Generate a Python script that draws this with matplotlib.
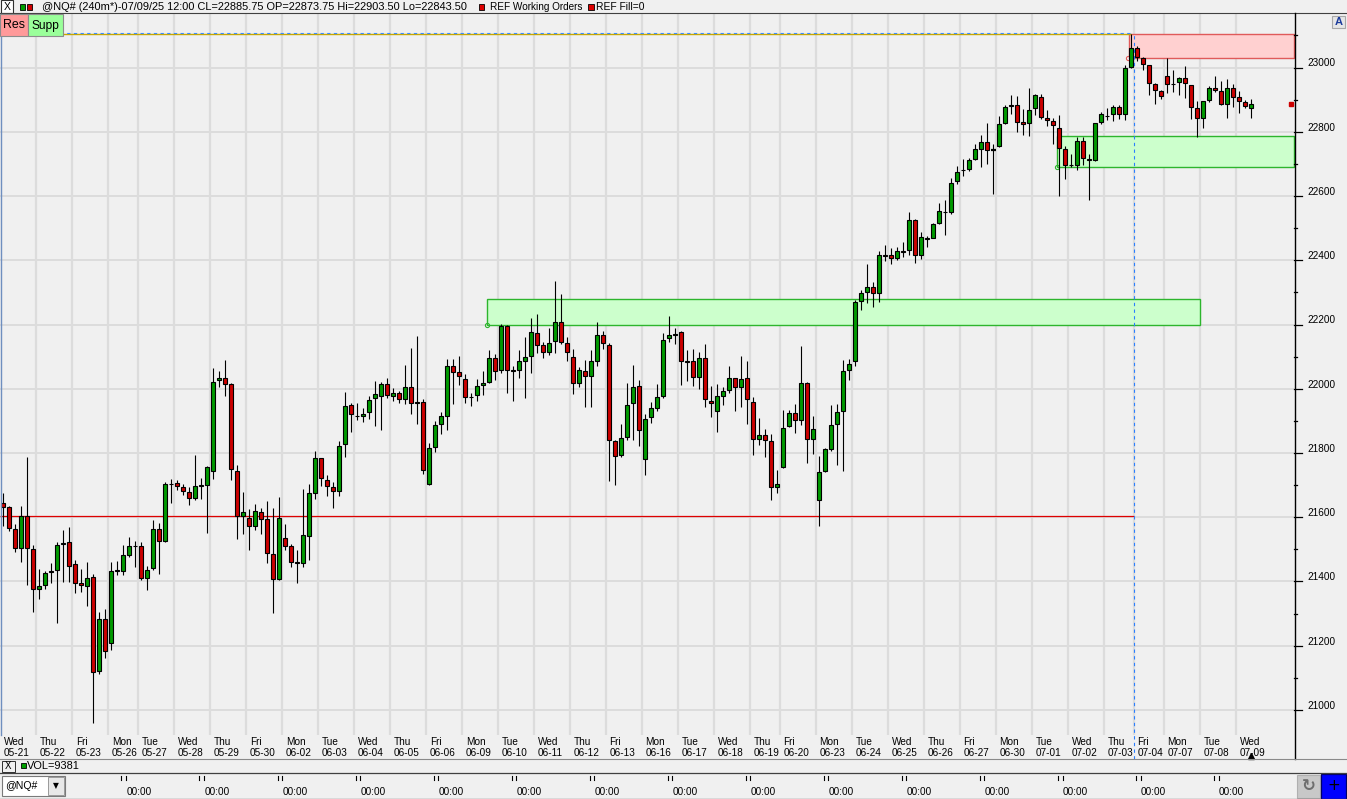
import numpy as np
import matplotlib
matplotlib.use('Agg')
import matplotlib.pyplot as plt
from matplotlib.patches import Rectangle
from matplotlib.lines import Line2D

plt.rcParams['font.family'] = ['Liberation Sans', 'DejaVu Sans']

W, H = 1347, 799

# 240 minute bars of @NQ#, 05-21 .. 07-09
opens = [21643, 21631, 21562, 21503, 21603, 21500, 21378, 21388, 21434, 21437,
         21518, 21522, 21453, 21394, 21385, 21413, 21120, 21282, 21210, 21434,
         21434, 21484, 21510, 21509, 21410, 21441, 21562, 21525, 21705, 21708,
         21693, 21680, 21661, 21697, 21701, 21745, 22026, 22032, 22014, 21745,
         21605, 21599, 21574, 21615, 21593, 21487, 21408, 21534, 21509, 21461,
         21459, 21543, 21677, 21783, 21717, 21693, 21683, 21827, 21948, 21916,
         21914, 21927, 21970, 21979, 22014, 21977, 21986, 21967, 22005, 21957,
         21958, 21702, 21818, 21889, 21916, 22070, 22051, 22029, 21974, 21980,
         22011, 22020, 22095, 22057, 22194, 22058, 22060, 22088, 22103, 22175,
         22137, 22113, 22150, 22209, 22144, 22100, 22019, 22054, 22040, 22088,
         22166, 22135, 21836, 21795, 21851, 21957, 22010, 21780, 21911, 21939,
         21976, 22157, 22168, 22178, 22085, 22085, 22038, 22097, 21963, 21932,
         21979, 21995, 22032, 22007, 22032, 21960, 21845, 21855, 21836, 21693,
         21755, 21883, 21926, 21904, 22019, 21845, 21655, 21745, 21814, 21889,
         21932, 22057, 22085, 22272, 22300, 22316, 22297, 22418, 22415, 22406,
         22428, 22431, 22524, 22418, 22465, 22471, 22515, 22551, 22549, 22646,
         22681, 22683, 22714, 22748, 22767, 22742, 22755, 22826, 22880, 22882,
         22830, 22826, 22873, 22910, 22842, 22833, 22811, 22746, 22697, 22696,
         22770, 22715, 22711, 22830, 22850, 22855, 22876, 22855, 23001, 23060,
         23029, 23007, 22948, 22926, 22973, 22949, 22954, 22967, 22945, 22873,
         22842, 22898, 22935, 22926, 22886, 22935, 22907, 22892, 22873.75]
highs = [21676, 21635, 21579, 21635, 21788, 21513, 21438, 21433, 21456, 21523,
         21560, 21569, 21467, 21438, 21460, 21423, 21304, 21313, 21460, 21463,
         21515, 21537, 21526, 21522, 21447, 21591, 21582, 21709, 21718, 21715,
         21705, 21695, 21795, 21722, 21759, 22064, 22055, 22089, 22018, 21762,
         21678, 21625, 21641, 21628, 21650, 21628, 21662, 21579, 21516, 21497,
         21687, 21702, 21806, 21786, 21731, 21711, 21838, 21990, 21955, 21955,
         21939, 21979, 22023, 22021, 22032, 22001, 21992, 22074, 22127, 22164,
         21969, 21830, 21899, 21927, 22092, 22092, 22102, 22045, 21986, 22029,
         22055, 22121, 22109, 22203, 22200, 22070, 22122, 22161, 22220, 22232,
         22145, 22189, 22335, 22294, 22160, 22123, 22069, 22091, 22122, 22207,
         22181, 22141, 21839, 21889, 22019, 22075, 22026, 21920, 21960, 22016,
         22175, 22226, 22188, 22180, 22120, 22125, 22114, 22139, 22008, 22014,
         22006, 22070, 22035, 22102, 22086, 21973, 21910, 21876, 21858, 21746,
         21933, 21933, 21952, 22133, 22022, 21915, 21791, 21817, 21948, 21954,
         22091, 22094, 22275, 22307, 22388, 22334, 22428, 22449, 22437, 22440,
         22456, 22550, 22530, 22487, 22477, 22515, 22577, 22587, 22655, 22695,
         22714, 22720, 22761, 22789, 22826, 22761, 22848, 22885, 22916, 22913,
         22870, 22935, 22917, 22917, 22867, 22842, 22851, 22755, 22730, 22783,
         22783, 22730, 22828, 22861, 22873, 22882, 22882, 23007, 23106, 23066,
         23032, 23008, 22951, 22929, 23029, 22992, 22970, 23005, 22946, 22895,
         22896, 22942, 22973, 22957, 22964, 22948, 22926, 22898, 22903.5]
lows = [21572, 21558, 21492, 21461, 21390, 21306, 21346, 21378, 21396, 21271,
        21399, 21399, 21365, 21367, 21324, 20960, 21113, 21162, 21186, 21420,
        21420, 21477, 21446, 21404, 21374, 21435, 21424, 21524, 21645, 21686,
        21668, 21639, 21654, 21657, 21551, 21719, 22006, 21978, 21717, 21533,
        21549, 21498, 21560, 21548, 21458, 21302, 21405, 21498, 21446, 21396,
        21446, 21467, 21657, 21698, 21667, 21629, 21667, 21789, 21866, 21903,
        21897, 21907, 21884, 21873, 21972, 21962, 21957, 21954, 21922, 21891,
        21735, 21700, 21804, 21860, 21873, 21954, 22013, 21957, 21947, 21963,
        21982, 22017, 22028, 22048, 21988, 21962, 22034, 21972, 22050, 22111,
        22096, 22106, 22111, 22138, 22086, 21984, 22004, 21944, 21944, 22071,
        22123, 21712, 21699, 21789, 21842, 21842, 21822, 21732, 21894, 21932,
        21970, 22147, 22140, 22012, 22025, 22009, 22000, 21944, 21913, 21866,
        21950, 21987, 21931, 21944, 21889, 21794, 21826, 21788, 21655, 21677,
        21752, 21880, 21863, 21888, 21769, 21797, 21573, 21742, 21805, 21764,
        21745, 22026, 22072, 22245, 22268, 22255, 22271, 22398, 22389, 22400,
        22411, 22418, 22392, 22405, 22442, 22471, 22512, 22480, 22545, 22639,
        22663, 22679, 22711, 22689, 22701, 22605, 22752, 22823, 22854, 22798,
        22789, 22786, 22851, 22839, 22817, 22761, 22599, 22652, 22689, 22680,
        22696, 22587, 22708, 22823, 22836, 22833, 22839, 22836, 22998, 23022,
        22991, 22914, 22886, 22901, 22920, 22923, 22914, 22904, 22839, 22785,
        22813, 22892, 22923, 22884, 22844, 22876, 22858, 22873, 22843.5]
closes = [21633, 21565, 21503, 21603, 21503, 21378, 21385, 21425, 21430, 21515,
          21521, 21447, 21394, 21388, 21410, 21117, 21282, 21185, 21434, 21436,
          21481, 21509, 21512, 21410, 21437, 21562, 21525, 21705, 21704, 21696,
          21683, 21661, 21696, 21699, 21755, 22022, 22035, 22015, 21749, 21605,
          21615, 21573, 21618, 21596, 21490, 21408, 21599, 21509, 21462, 21459,
          21546, 21674, 21783, 21721, 21696, 21683, 21823, 21945, 21920, 21915,
          21923, 21964, 21983, 22014, 21980, 21986, 21967, 22005, 21955, 21959,
          21746, 21815, 21886, 21914, 22070, 22053, 22041, 21973, 21975, 22008,
          22018, 22095, 22054, 22194, 22060, 22056, 22085, 22100, 22178, 22137,
          22113, 22144, 22209, 22147, 22116, 22019, 22057, 22040, 22085, 22166,
          22141, 21839, 21792, 21848, 21951, 22007, 21873, 21907, 21939, 21973,
          22153, 22166, 22169, 22085, 22083, 22038, 22097, 21967, 21957, 21976,
          21992, 22035, 22007, 22029, 21967, 21845, 21855, 21839, 21693, 21705,
          21879, 21926, 21904, 22019, 21845, 21876, 21742, 21811, 21886, 21929,
          22054, 22076, 22269, 22297, 22316, 22297, 22418, 22412, 22406, 22428,
          22427, 22524, 22418, 22474, 22471, 22512, 22552, 22550, 22642, 22674,
          22682, 22711, 22745, 22767, 22742, 22742, 22823, 22876, 22882, 22832,
          22825, 22867, 22914, 22845, 22836, 22820, 22749, 22696, 22696, 22770,
          22717, 22713, 22826, 22855, 22849, 22876, 22855, 22998, 23060, 23032,
          23010, 22951, 22929, 22911, 22948, 22950, 22967, 22951, 22876, 22844,
          22895, 22935, 22929, 22886, 22935, 22907, 22895, 22879, 22885.75]

day_names = ['Wed', 'Thu', 'Fri', 'Mon', 'Tue', 'Wed', 'Thu', 'Fri', 'Mon', 'Tue',
             'Wed', 'Thu', 'Fri', 'Mon', 'Tue', 'Wed', 'Thu', 'Fri', 'Mon', 'Tue',
             'Wed', 'Thu', 'Fri', 'Mon', 'Tue', 'Wed', 'Thu', 'Fri', 'Mon', 'Tue',
             'Wed', 'Thu', 'Fri', 'Mon', 'Tue', 'Wed']
day_dates = ['05-21', '05-22', '05-23', '05-26', '05-27', '05-28', '05-29', '05-30',
             '06-02', '06-03', '06-04', '06-05', '06-06', '06-09', '06-10', '06-11',
             '06-12', '06-13', '06-16', '06-17', '06-18', '06-19', '06-20', '06-23',
             '06-24', '06-25', '06-26', '06-27', '06-30', '07-01', '07-02', '07-03',
             '07-04', '07-07', '07-08', '07-09']
day_start_bar = [0, 6, 12, 18, 23, 29, 35, 41, 47, 53, 59, 65, 71, 77, 83, 89, 95, 101,
                 107, 113, 119, 125, 130, 136, 142, 148, 154, 160, 166, 172, 178, 184,
                 189, 194, 200, 206]

price_ticks = list(range(21000, 23001, 200))
ref_line = 21605
res_zone = (23030, 23106)
supp_zone_1 = (22198, 22279)
supp_zone_2 = (22690, 22786)
last_price = 22885.75
header = '@NQ# (240m*)-07/09/25 12:00 CL=22885.75 OP=22873.75 Hi=22903.50 Lo=22843.50'

BG = '#f0f0f0'
GRID = '#dcdcdc'

fig = plt.figure(figsize=(W / 100, H / 100), dpi=100)
fig.patch.set_facecolor(BG)
renderer = fig.canvas.get_renderer()


def frect(x0, y0, x1, y1, **kw):
    r = Rectangle((x0 / W, 1 - y1 / H), (x1 - x0) / W, (y1 - y0) / H,
                  transform=fig.transFigure, **kw)
    fig.add_artist(r)
    return r


def fline(xs, ys, **kw):
    fig.add_artist(Line2D([x / W for x in xs], [1 - y / H for y in ys],
                          transform=fig.transFigure, **kw))


def ftext(x, y, s, width=None, **kw):
    t = fig.text(x / W, 1 - y / H, s, **kw)
    if width:
        w = t.get_window_extent(renderer).width
        t.set_fontsize(t.get_fontsize() * width / w)
    return t


# main price panel
ax = fig.add_axes([0, 1 - 735 / H, 1294 / W, (735 - 13) / H])
ax.set_facecolor(BG)
ax.set_xlim(-0.55, 215.12)
ax.set_ylim(20922, 23170)
for s in ax.spines.values():
    s.set_visible(False)
ax.set_xticks([])
ax.set_yticks([])

for p in price_ticks:
    ax.axhline(p, color=GRID, lw=1.4, zorder=0)
for b in day_start_bar[1:]:
    ax.axvline(b - 0.5, color=GRID, lw=1.6, zorder=0)

# zones
ax.add_patch(Rectangle((187.7, res_zone[0]), 215.12 - 187.7, res_zone[1] - res_zone[0],
                       facecolor='#ffd0d0', edgecolor='#e05a5a', lw=1, zorder=1, clip_on=False))
ax.add_patch(Rectangle((80.6, supp_zone_1[0]), 199.4 - 80.6, supp_zone_1[1] - supp_zone_1[0],
                       facecolor='#ccffcc', edgecolor='#2db52d', lw=1, zorder=1))
ax.add_patch(Rectangle((175.7, supp_zone_2[0]), 215.12 - 175.7, supp_zone_2[1] - supp_zone_2[0],
                       facecolor='#ccffcc', edgecolor='#2db52d', lw=1, zorder=1, clip_on=False))
ax.plot([187.5], [res_zone[0]], 'o', ms=3, mfc='none', mec='#e05a5a', mew=0.8, zorder=2)
ax.plot([80.6], [supp_zone_1[0]], 'o', ms=3, mfc='none', mec='#2db52d', mew=0.8, zorder=2)
ax.plot([175.7], [supp_zone_2[0]], 'o', ms=3, mfc='none', mec='#2db52d', mew=0.8, zorder=2)

# reference lines
ax.hlines(ref_line, -0.55, 188.5, color='#dd0000', lw=0.9, zorder=2)
ax.hlines(res_zone[1] - 2, -0.55, 188, color='#c8a800', lw=1.0, zorder=2)
ax.hlines(res_zone[1] + 1, -0.55, 188, color='#3a8cff', lw=0.8, ls=(0, (3, 3)), zorder=2)
ax.plot([188.5, 188.5], [20847, res_zone[1]], color='#2a7fff', lw=0.8,
        ls=(0, (3, 3)), zorder=2, clip_on=False)

# candles
o = np.array(opens)
h = np.array(highs)
l = np.array(lows)
c = np.array(closes)
x = np.arange(len(o))
up = c > o
dn = c < o
eq = ~(up | dn)
ax.vlines(x, l, h, color='black', lw=0.8, zorder=3)
ax.bar(x[up], (c - o)[up], bottom=o[up], width=0.68, color='#009a00',
       edgecolor='black', lw=0.8, zorder=4)
ax.bar(x[dn], (o - c)[dn], bottom=c[dn], width=0.68, color='#cc0000',
       edgecolor='black', lw=0.8, zorder=4)
ax.hlines(o[eq], x[eq] - 0.37, x[eq] + 0.37, color='black', lw=1.6, zorder=4)

# price scale
for p in price_ticks:
    ax.annotate(str(p), xy=(1, p), xycoords=('axes fraction', 'data'),
                xytext=(9.4, 3), textcoords='offset points', va='center', ha='left',
                fontsize=7.2, annotation_clip=False)
    ax.plot([215.12, 216.5], [p, p], color='black', lw=0.9, clip_on=False)
for p in range(21100, 23200, 200):
    ax.plot([215.12, 215.6], [p, p], color='black', lw=0.9, clip_on=False)
ax.plot([214.6], [last_price], 's', ms=2.6, color='#cc0000', clip_on=False, zorder=5)

# date labels
for name, date, b in zip(day_names, day_dates, day_start_bar):
    ax.annotate(name, xy=(b - 0.5, 0), xycoords=('data', 'axes fraction'),
                xytext=(2.4, -4.8), textcoords='offset points', va='center',
                ha='left', fontsize=7.2, annotation_clip=False)
    ax.annotate(date, xy=(b - 0.5, 0), xycoords=('data', 'axes fraction'),
                xytext=(2.4, -12.7), textcoords='offset points', va='center',
                ha='left', fontsize=7.2, annotation_clip=False)
ax.plot([len(o) - 1], [20857], '^', ms=4.2, color='black', clip_on=False, zorder=5)

# chrome: header
fline([0, W], [13.3, 13.3], color='#404040', lw=0.8)
frect(0.5, 0.5, 13, 13, facecolor='white', edgecolor='#303030', lw=0.8)
ftext(6.8, 6.8, 'X', ha='center', va='center', fontsize=7.5)
frect(20, 4, 25.4, 9.5, facecolor='#00a000', edgecolor='black', lw=0.6)
frect(26.8, 4, 32, 9.5, facecolor='#cc0000', edgecolor='black', lw=0.6)
ftext(42.4, 7, header, width=427.6, va='center', ha='left', fontsize=8)
frect(478.6, 4, 484.4, 9.5, facecolor='#dd0000', edgecolor='black', lw=0.6)
ftext(489.7, 7, 'REF Working Orders', width=92.9, va='center', ha='left', fontsize=8)
frect(588, 4, 594, 9.5, facecolor='#dd0000', edgecolor='black', lw=0.6)
ftext(595.5, 7, 'REF Fill=0', width=48, va='center', ha='left', fontsize=8)

# Res / Supp buttons
frect(0, 14, 28, 36, facecolor='#ff9a9a', edgecolor='#8c8c8c', lw=0.8, zorder=6)
frect(28, 14, 62.5, 36, facecolor='#9aff9a', edgecolor='#8c8c8c', lw=0.8, zorder=6)
ftext(14, 25.5, 'Res', width=22, ha='center', va='center', fontsize=9, zorder=7)
ftext(45.3, 25.5, 'Supp', width=28, ha='center', va='center', fontsize=9, zorder=7)

# A button
frect(1331.7, 16, 1345, 28.3, facecolor='#e6e6e6', edgecolor='#a8a8a8', lw=0.8)
ftext(1338.3, 22.3, 'A', ha='center', va='center', fontsize=8, fontweight='bold',
      color='#1c3c9c')

# right axis and separators
fline([1295, 1295], [13.3, 759], color='black', lw=1.0)
fline([0.6, 0.6], [14, 735], color='#6f8fbf', lw=1.0)
fline([0, W], [759, 759], color='#8a8a8a', lw=0.8)
fline([0, W], [773, 773], color='#404040', lw=0.9)
fline([0, W], [798.5, 798.5], color='#404040', lw=0.9)

# volume panel header
frect(2, 760.5, 15, 772, facecolor=BG, edgecolor='#303030', lw=0.7)
ftext(8.5, 766.3, 'X', ha='center', va='center', fontsize=7)
frect(21, 762.5, 26, 768, facecolor='#00a000', edgecolor='black', lw=0.6)
ftext(27, 766, 'VOL=9381', width=53, ha='left', va='center', fontsize=8)

# bottom navigator
for k in range(15):
    xt = 121.4 + 78.06 * k
    fline([xt, xt], [775.5, 780], color='black', lw=0.8)
    fline([xt + 4.4, xt + 4.4], [775.5, 780], color='black', lw=0.8)
    ftext(xt + 17.4, 792, '00:00', ha='center', va='center', fontsize=7.2)

frect(2, 775.5, 65, 796, facecolor='white', edgecolor='#7a7a7a', lw=0.8)
frect(47.5, 777, 64, 794.5, facecolor='#e8e8e8', edgecolor='#9a9a9a', lw=0.7)
ftext(5, 786, '@NQ#', width=32.5, ha='left', va='center', fontsize=8)
ftext(55.8, 786, '\u25bc', ha='center', va='center', fontsize=5.5, color='black',
      family='DejaVu Sans')

frect(1296.5, 775, 1320, 797.5, facecolor='#c8c8c8', edgecolor='#b0b0b0', lw=0.8)
ftext(1308.3, 786.5, '\u21bb', ha='center', va='center', fontsize=12, color='#6e6e6e',
      family='DejaVu Sans', fontweight='bold')
frect(1321, 773.5, 1346, 798.5, facecolor='#0000ff', edgecolor='#00006a', lw=0.9)
ftext(1333.5, 786, '+', ha='center', va='center', fontsize=11, color='black',
      family='DejaVu Sans', zorder=8)

fig.savefig('out.png', dpi=100, facecolor=BG)
